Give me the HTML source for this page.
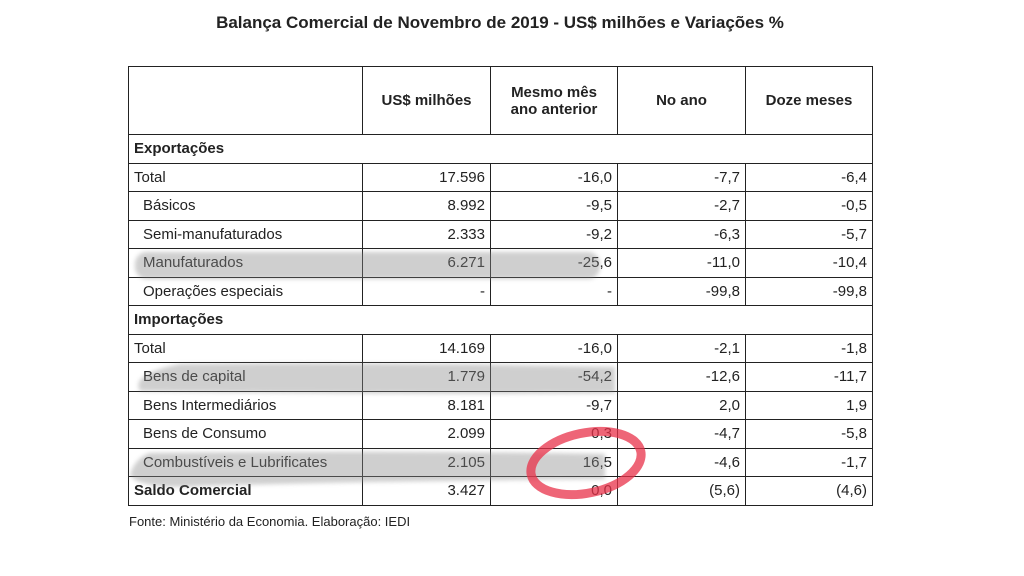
<!DOCTYPE html>
<html><head><meta charset="utf-8">
<style>
body{margin:0;width:1024px;height:576px;background:#fff;position:relative;overflow:hidden;font-family:"Liberation Sans",Arial,sans-serif;color:#222}
#title{position:absolute;left:0;width:1000px;top:13px;text-align:center;font-weight:bold;font-size:17px}
table{position:absolute;left:128px;top:66px;border-collapse:collapse;font-size:15px}
td{border:1.5px solid #222;height:27.5px;padding:0 5px;white-space:nowrap}
td.n{text-align:right}
td.ind{padding-left:14px}
tr.h td{height:67px;text-align:center;font-weight:bold;font-size:15px}
tr.sec td{font-weight:bold;border-left:1.5px solid #222;border-right:1.5px solid #222}
#src{position:absolute;left:129px;top:514px;font-size:13px}
svg{position:absolute;left:0;top:0}
</style></head><body>
<div id="title">Balança Comercial de Novembro de 2019 - US$ milhões e Variações %</div>
<table>
<colgroup><col style="width:234px"><col style="width:128px"><col style="width:127px"><col style="width:128px"><col style="width:127px"></colgroup>
<tr class="h"><td></td><td>US$ milhões</td><td>Mesmo mês<br>ano anterior</td><td>No ano</td><td>Doze meses</td></tr>
<tr class="sec"><td colspan="5">Exportações</td></tr>
<tr><td>Total</td><td class="n">17.596</td><td class="n">-16,0</td><td class="n">-7,7</td><td class="n">-6,4</td></tr>
<tr><td class="ind">Básicos</td><td class="n">8.992</td><td class="n">-9,5</td><td class="n">-2,7</td><td class="n">-0,5</td></tr>
<tr><td class="ind">Semi-manufaturados</td><td class="n">2.333</td><td class="n">-9,2</td><td class="n">-6,3</td><td class="n">-5,7</td></tr>
<tr><td class="ind">Manufaturados</td><td class="n">6.271</td><td class="n">-25,6</td><td class="n">-11,0</td><td class="n">-10,4</td></tr>
<tr><td class="ind">Operações especiais</td><td class="n">-</td><td class="n">-</td><td class="n">-99,8</td><td class="n">-99,8</td></tr>
<tr class="sec"><td colspan="5">Importações</td></tr>
<tr><td>Total</td><td class="n">14.169</td><td class="n">-16,0</td><td class="n">-2,1</td><td class="n">-1,8</td></tr>
<tr><td class="ind">Bens de capital</td><td class="n">1.779</td><td class="n">-54,2</td><td class="n">-12,6</td><td class="n">-11,7</td></tr>
<tr><td class="ind">Bens Intermediários</td><td class="n">8.181</td><td class="n">-9,7</td><td class="n">2,0</td><td class="n">1,9</td></tr>
<tr><td class="ind">Bens de Consumo</td><td class="n">2.099</td><td class="n">0,3</td><td class="n">-4,7</td><td class="n">-5,8</td></tr>
<tr><td class="ind">Combustíveis e Lubrificates</td><td class="n">2.105</td><td class="n">16,5</td><td class="n">-4,6</td><td class="n">-1,7</td></tr>
<tr><td style="font-weight:bold">Saldo Comercial</td><td class="n">3.427</td><td class="n">0,0</td><td class="n">(5,6)</td><td class="n">(4,6)</td></tr>
</table>
<div id="src">Fonte: Ministério da Economia. Elaboração: IEDI</div>
<svg width="1024" height="576">
<defs><filter id="b"><feGaussianBlur stdDeviation="2"/></filter></defs>
<g fill="#888" opacity="0.4" filter="url(#b)">
<rect x="135" y="252" width="465" height="27" rx="12"/>
<path d="M180 364 Q400 362 615 367 L615 393 Q400 395 140 391 Q130 374 180 364Z"/>
<path d="M150 453 Q380 450 605 454 L605 479 Q380 481 200 486 Q140 490 130 475 Q135 458 150 453Z"/>
</g>
<ellipse cx="586" cy="463" rx="56" ry="30" transform="rotate(-12 586 463)" fill="none" stroke="#e8324a" stroke-width="9" opacity="0.75"/>
</svg>
</body></html>
